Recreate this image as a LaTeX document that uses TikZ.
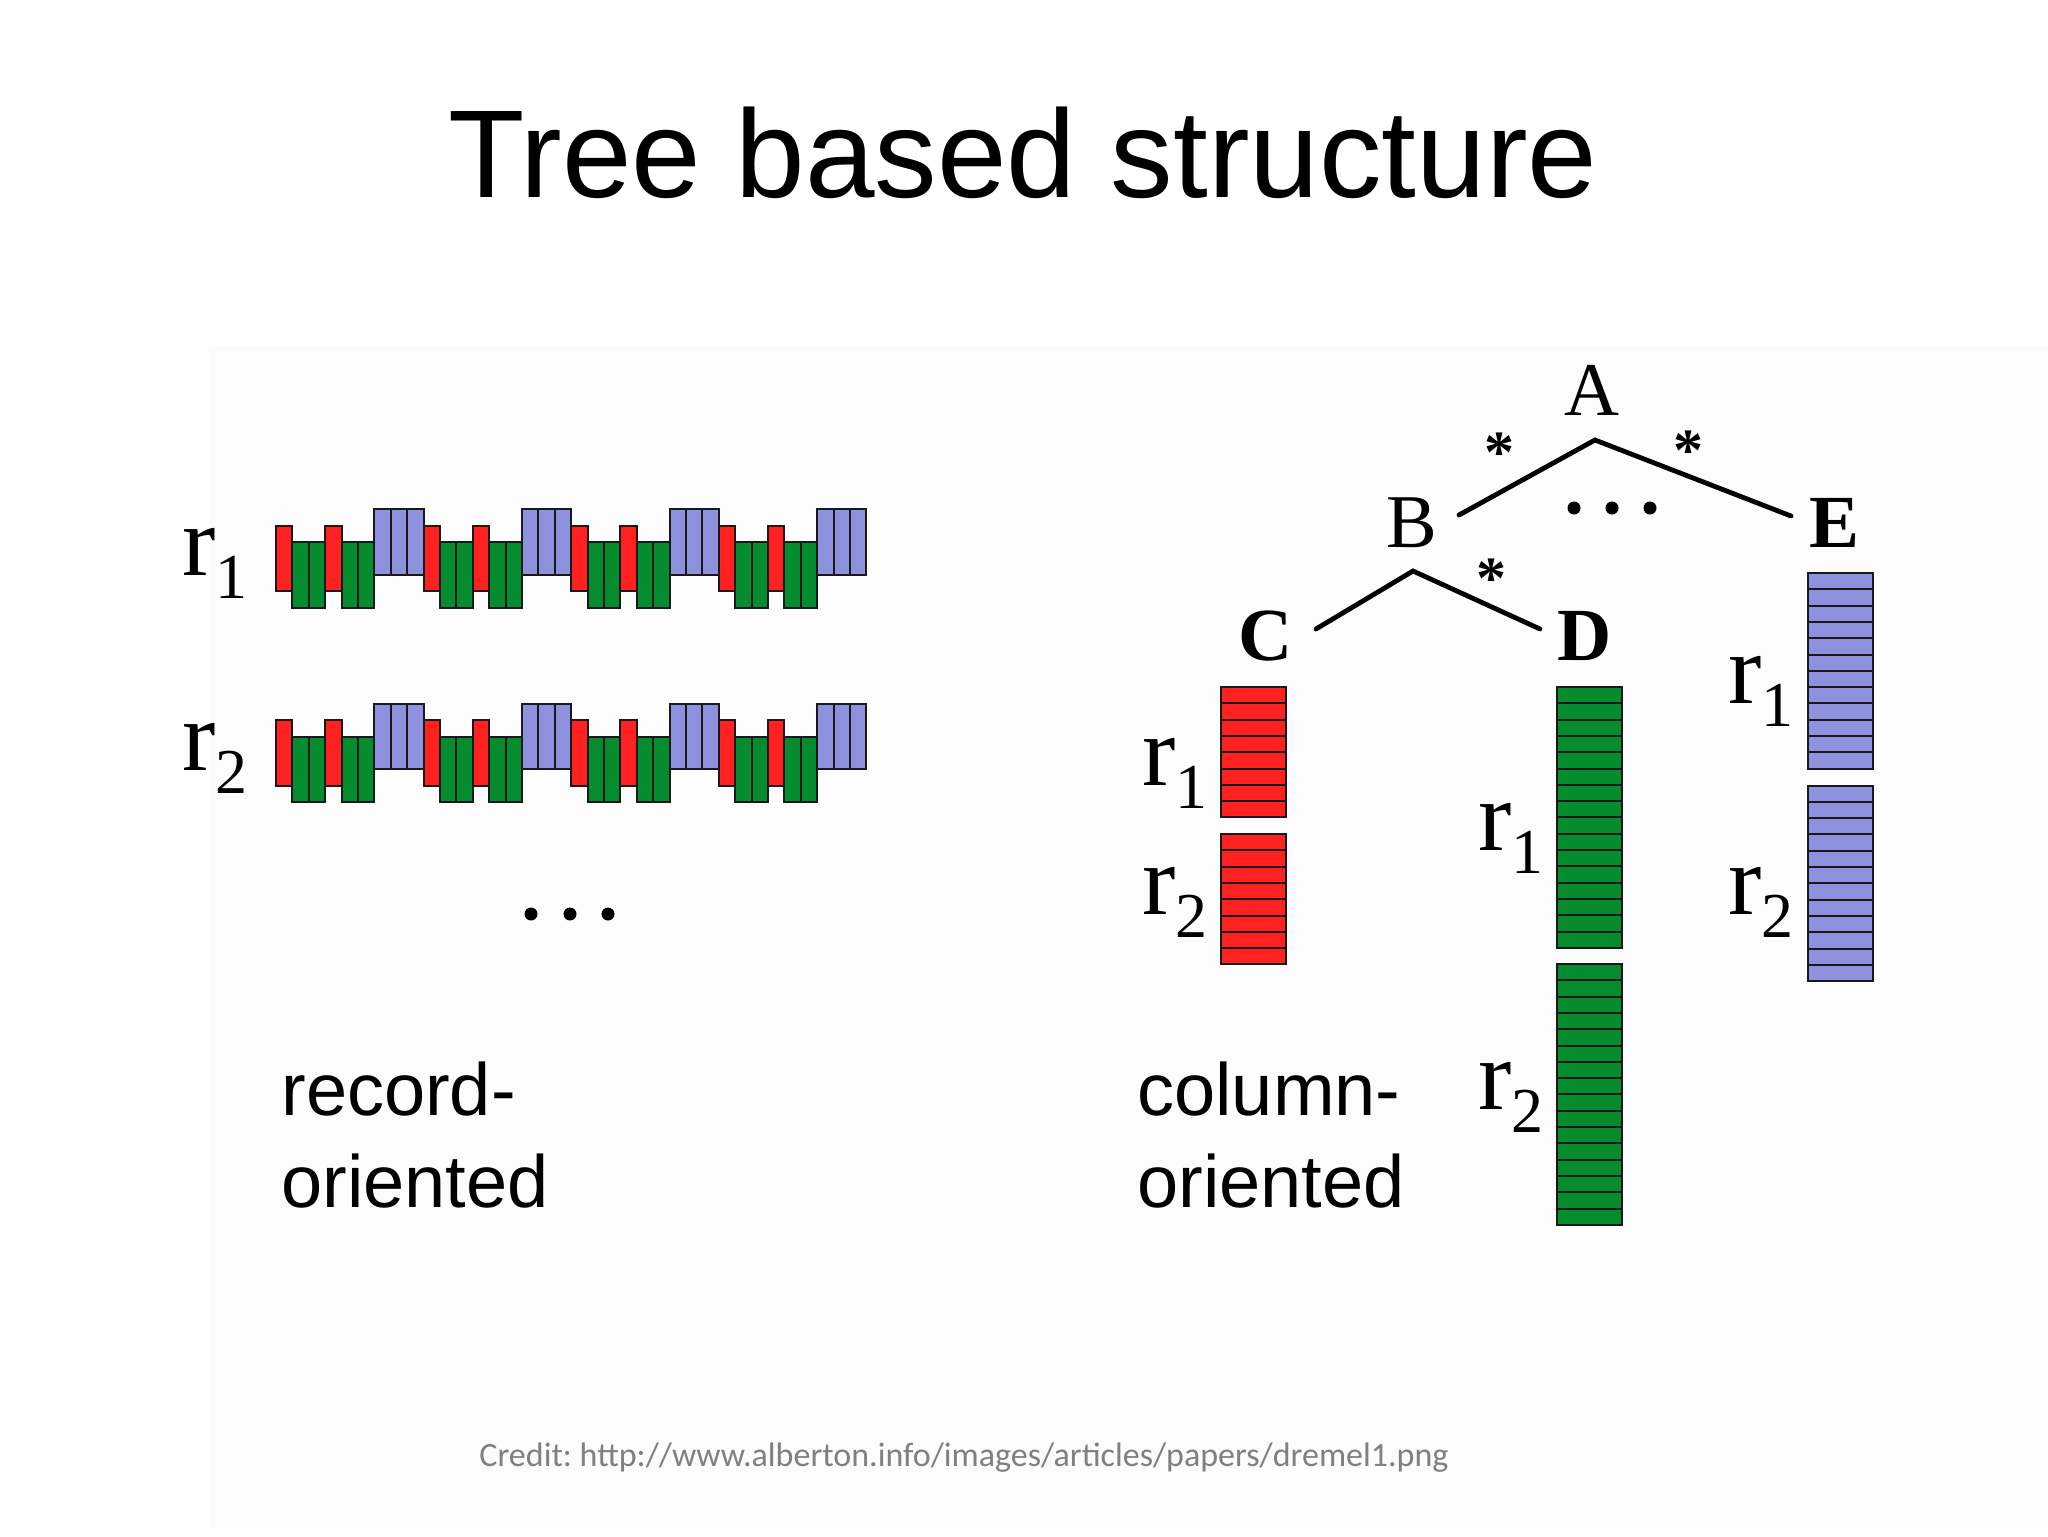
\documentclass[tikz,border=0pt]{standalone}
\usepackage{fontspec}
\setmainfont{Liberation Serif}
\newfontfamily\slidefont{Liberation Sans}
\newfontfamily\creditfont{Carlito}
\frenchspacing

\definecolor{cellred}{RGB}{255,32,32}
\definecolor{cellgreen}{RGB}{4,140,46}
\definecolor{cellblue}{RGB}{142,145,222}
\definecolor{creditgray}{RGB}{128,128,128}
\definecolor{paper}{RGB}{252,252,252}

\newcommand{\rlab}[1]{{\fontsize{50}{50}\selectfont r\raisebox{-11.5pt}{\fontsize{32}{32}\selectfont #1}}}

\tikzset{
  redcell/.style={draw=black!90, fill=cellred, line width=1pt},
  greencell/.style={draw=black!90, fill=cellgreen, line width=1pt},
  bluecell/.style={draw=black!90, fill=cellblue, line width=1pt},
  branch/.style={line width=2.4pt, line cap=round},
  letter/.style={anchor=base, inner sep=0pt, font=\fontsize{38}{38}\selectfont},
  bletter/.style={anchor=base, inner sep=0pt, font=\fontsize{37.5}{37.5}\selectfont\bfseries},
  star/.style={anchor=base, inner sep=0pt, font=\fontsize{30}{30}\selectfont\bfseries},
  rlabel/.style={anchor=base west, inner sep=0pt},
  side/.style={anchor=base west, inner sep=0pt, font=\slidefont\fontsize{37}{37}\selectfont}
}

\begin{document}
\begin{tikzpicture}[x=0.5pt, y=-0.5pt]

  % Canvas
  \fill[white] (0,0) rectangle (2048,1536);
  \useasboundingbox (0,0) rectangle (2048,1536);
  \fill[paper] (209,346) rectangle (2048,1528);

  % Title
  \node[anchor=base, inner sep=0pt, font=\slidefont\fontsize{62.5}{62.5}\selectfont]
    (title) at (1023,197) {Tree based structure};

  % Record-oriented rows
  \foreach \yy in {509,703.5} {
    \foreach \k in {0,...,3} {
      \pgfmathsetmacro{\xx}{276+\k*147.6}
      \foreach \c in {0,3}
        \draw[redcell] ({\xx+\c*16.4},\yy+16.5) rectangle ++(16.4,65.5);
      \foreach \c in {1,2,4,5}
        \draw[greencell] ({\xx+\c*16.4},\yy+33) rectangle ++(16.4,65.5);
      \foreach \c in {6,7,8}
        \draw[bluecell] ({\xx+\c*16.4},\yy) rectangle ++(16.4,65.5);
    }
  }
  \node[rlabel] (rec-r1) at (182,575) {\rlab{1}};
  \node[rlabel] (rec-r2) at (182,770) {\rlab{2}};
  \foreach \x in {531,570,608}
    \fill (\x,914) circle (6.5);

  \node[side] (rec-a) at (281,1115) {record-};
  \node[side] (rec-b) at (281,1207) {oriented};

  % Tree
  \node[letter]  (A) at (1592,415) {A};
  \node[letter]  (B) at (1412,547) {B};
  \node[bletter] (E) at (1834,547) {E};
  \node[bletter] (C) at (1266,660) {C};
  \node[bletter] (D) at (1585,660) {D};

  \coordinate (apexA) at (1595,440);
  \coordinate (endAB) at (1459,515);
  \coordinate (endAE) at (1791,516);
  \coordinate (apexB) at (1413,571);
  \coordinate (endBC) at (1316,629);
  \coordinate (endBD) at (1540,629);

  \draw[branch] (endAB) -- (apexA) -- (endAE);
  \draw[branch] (endBC) -- (apexB) -- (endBD);

  \node[star] (starAB) at (1499,472) {*};
  \node[star] (starAE) at (1688,470) {*};
  \node[star] (starBD) at (1491,598) {*};
  \foreach \x in {1574,1612,1650}
    \fill (\x,508) circle (6.5);

  % Column-oriented stripes
  \foreach \i in {0,...,7} {
    \draw[redcell] (1221,{687+\i*16.3}) rectangle ++(65,16.3);
    \draw[redcell] (1221,{834+\i*16.3}) rectangle ++(65,16.3);
  }
  \foreach \i in {0,...,15} {
    \draw[greencell] (1557,{687+\i*16.3}) rectangle ++(65,16.3);
    \draw[greencell] (1557,{964+\i*16.3}) rectangle ++(65,16.3);
  }
  \foreach \i in {0,...,11} {
    \draw[bluecell] (1808,{573+\i*16.3}) rectangle ++(65,16.3);
    \draw[bluecell] (1808,{785.5+\i*16.3}) rectangle ++(65,16.3);
  }

  \node[rlabel] (C-r1) at (1142,785) {\rlab{1}};
  \node[rlabel] (C-r2) at (1142,914) {\rlab{2}};
  \node[rlabel] (D-r1) at (1478,850) {\rlab{1}};
  \node[rlabel] (D-r2) at (1478,1109) {\rlab{2}};
  \node[rlabel] (E-r1) at (1728,703) {\rlab{1}};
  \node[rlabel] (E-r2) at (1728,914) {\rlab{2}};

  \node[side] (col-a) at (1137,1115) {column-};
  \node[side] (col-b) at (1137,1207) {oriented};

  % Credit
  \node[anchor=base, inner sep=0pt, font=\creditfont\fontsize{17}{17}\selectfont, text=creditgray]
    (credit) at (964,1466) {Credit: http://www.alberton.info/images/articles/papers/dremel1.png};

\end{tikzpicture}
\end{document}
